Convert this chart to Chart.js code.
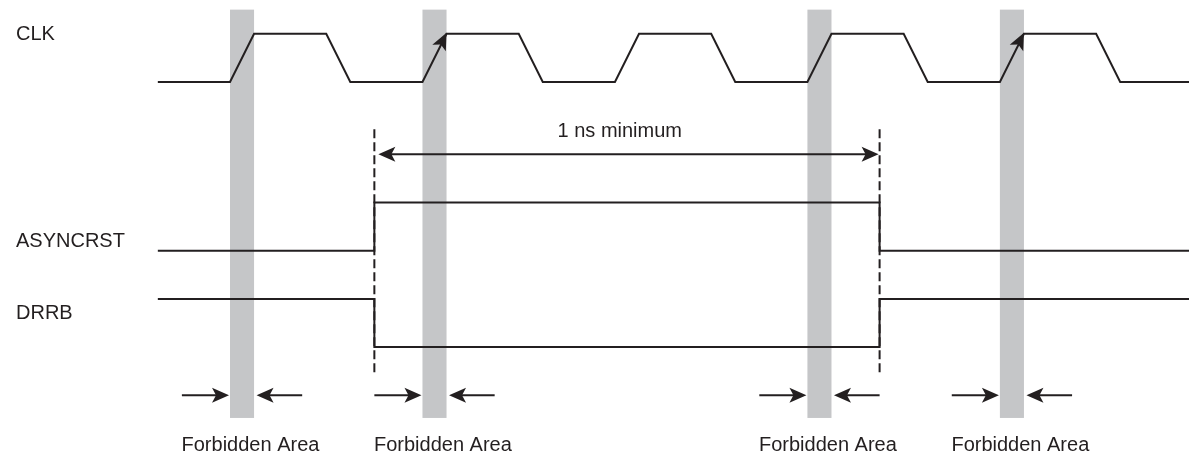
<!DOCTYPE html>
<html>
<head>
<meta charset="utf-8">
<script src="https://cdn.jsdelivr.net/npm/chart.js@4"></script>
<style>
  html, body { margin: 0; padding: 0; background: #fff; }
  #wrap { width: 1189px; height: 457px; }
</style>
</head>
<body>
<div id="wrap"><canvas id="timing"></canvas></div>
<script>
// time axis in quarter clock periods, y axis in signal swings
const signalNames = ["CLK", "ASYNCRST", "DRRB"];
const signalBase = [5.5, 2, 0];
const labelY = [6.37, 2.07, 0.58];

const clkTime = [-3, 0, 1, 4, 5, 8, 9, 12, 13, 16, 17, 20, 21, 24, 25, 28, 29, 32, 33, 36, 37, 40];
const clkLevel = [0, 0, 1, 1, 0, 0, 1, 1, 0, 0, 1, 1, 0, 0, 1, 1, 0, 0, 1, 1, 0, 0];
const clkArrowEdges = [8, 32];

const rstTime = [-3, 6, 6, 27, 27, 40];
const asyncLevel = [0, 0, 1, 1, 0, 0];
const drrbLevel = [1, 1, 0, 0, 1, 1];

const forbiddenStart = [0, 8, 24, 32];
const forbiddenWidth = 1;
const forbiddenLabel = "Forbidden Area";

const minPulse = [6, 27];
const minPulseLabel = "1 ns minimum";

const ink = "#231f20";
const grey = "#c5c6c8";
const font = '20px "Liberation Sans", Arial, sans-serif';

function wave(times, levels, base) {
  return times.map((t, i) => ({ x: t, y: base + levels[i] }));
}
function seg(x0, y0, x1, y1) {
  return [{ x: x0, y: y0 }, { x: x1, y: y1 }];
}
function lineSet(data, dash) {
  return {
    data: data,
    showLine: true,
    borderColor: ink,
    borderWidth: 2,
    borderDash: dash || [],
    pointRadius: 0,
    tension: 0,
  };
}

const datasets = [
  lineSet(wave(clkTime, clkLevel, signalBase[0])),
  lineSet(wave(rstTime, asyncLevel, signalBase[1])),
  lineSet(wave(rstTime, drrbLevel, signalBase[2])),
  lineSet(seg(minPulse[0], 4.52, minPulse[0], -0.54), [9, 4]),
  lineSet(seg(minPulse[1], 4.52, minPulse[1], -0.54), [9, 4]),
  lineSet(seg(minPulse[0] + 0.4, 4, minPulse[1] - 0.4, 4)),
];
forbiddenStart.forEach((t) => {
  datasets.push(lineSet(seg(t - 2, -1, t - 0.4, -1)));
  datasets.push(lineSet(seg(t + forbiddenWidth + 2, -1, t + forbiddenWidth + 0.4, -1)));
});

function head(ctx, x, y, fx, fy) {
  const a = Math.atan2(y - fy, x - fx);
  const len = 17, hw = 7.5, notch = 4;
  ctx.save();
  ctx.translate(x, y);
  ctx.rotate(a);
  ctx.beginPath();
  ctx.moveTo(0, 0);
  ctx.lineTo(-len, -hw);
  ctx.lineTo(-len + notch, 0);
  ctx.lineTo(-len, hw);
  ctx.closePath();
  ctx.fillStyle = ink;
  ctx.fill();
  ctx.restore();
}

const timingPlugin = {
  id: "timing",
  beforeDatasetsDraw(chart) {
    const { ctx, scales: { x, y } } = chart;
    ctx.save();
    ctx.fillStyle = grey;
    forbiddenStart.forEach((t) => {
      const x0 = x.getPixelForValue(t);
      const x1 = x.getPixelForValue(t + forbiddenWidth);
      const y0 = y.getPixelForValue(7);
      const y1 = y.getPixelForValue(-1.47);
      ctx.fillRect(x0, y0, x1 - x0, y1 - y0);
    });
    ctx.restore();
  },
  afterDatasetsDraw(chart) {
    const { ctx, scales: { x, y } } = chart;
    const px = (t) => x.getPixelForValue(t);
    const py = (v) => y.getPixelForValue(v);

    // arrowheads
    clkArrowEdges.forEach((t) => {
      head(ctx, px(t + 1), py(signalBase[0] + 1) - 1, px(t), py(signalBase[0]));
    });
    head(ctx, px(minPulse[0]) + 4, py(4), px(minPulse[1]), py(4));
    head(ctx, px(minPulse[1]) - 1, py(4), px(minPulse[0]), py(4));
    forbiddenStart.forEach((t) => {
      head(ctx, px(t) - 1, py(-1), px(t - 2), py(-1));
      head(ctx, px(t + forbiddenWidth) + 2.5, py(-1), px(t + 3), py(-1));
    });

    ctx.save();
    ctx.fillStyle = ink;
    ctx.font = font;
    ctx.textBaseline = "alphabetic";
    ctx.textAlign = "left";
    signalNames.forEach((name, i) => {
      ctx.fillText(name, 16, py(labelY[i]));
    });
    ctx.textAlign = "center";
    ctx.fillText(minPulseLabel, px(16.2), py(4.36));
    forbiddenStart.forEach((t) => {
      ctx.fillText(forbiddenLabel, px(t + 0.85), py(-2.16));
    });
    ctx.restore();
  },
};

new Chart(document.getElementById("timing"), {
  type: "scatter",
  data: { datasets: datasets },
  options: {
    responsive: true,
    maintainAspectRatio: false,
    animation: false,
    layout: { padding: 0 },
    scales: {
      x: { type: "linear", display: false, min: -9.56, max: 39.86 },
      y: { type: "linear", display: false, min: -2.28, max: 7.2 },
    },
    plugins: {
      legend: { display: false },
      tooltip: { enabled: false },
    },
  },
  plugins: [timingPlugin],
});
</script>
</body>
</html>
